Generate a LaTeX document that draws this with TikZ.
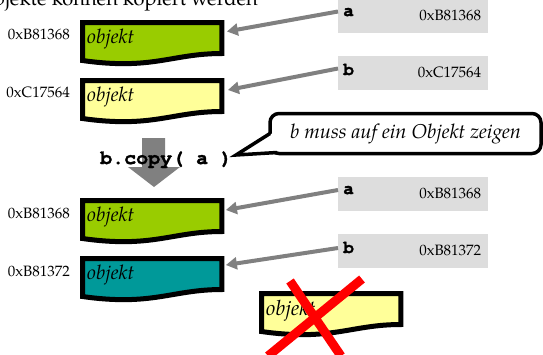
\documentclass[tikz,border=0pt]{standalone}
\usepackage{fontspec}
\setmainfont{TeX Gyre Pagella}
\setmonofont[BoldFeatures={FakeBold=1.5}]{TeX Gyre Cursor}
\usetikzlibrary{arrows.meta,calc}
\pgfdeclarelayer{bg}
\pgfsetlayers{bg,main}
\definecolor{objgreen}{HTML}{99CC00}
\definecolor{objyellow}{HTML}{FFFF99}
\definecolor{objteal}{HTML}{009999}
\definecolor{ptrgray}{HTML}{DDDDDD}
\definecolor{arrgray}{HTML}{808080}
\newcommand\objshape[2]{%
  \begin{pgfonlayer}{bg}
  \draw[line width=5pt, fill=#2, line join=miter]
    (#1.north west) -- (#1.north east) -- ($(#1.north east)+(0,31)$)
    .. controls +(-50,0) and +(70,10) .. ($(#1.north west)+(0,38)$) -- cycle;
  \end{pgfonlayer}}
\begin{document}
\begin{tikzpicture}[x=1pt,y=-1pt,
  obj/.style={anchor=north west, minimum width=139pt, minimum height=33pt,
    inner xsep=4.5pt, inner ysep=0pt, text width=130pt, align=left,
    font=\itshape\fontsize{20}{22}\selectfont},
  ptr/.style={anchor=north west, fill=ptrgray, minimum width=150pt,
    minimum height=33.5pt, inner sep=0pt},
  ptrlbl/.style={anchor=base west, inner sep=0pt,
    font=\ttfamily\bfseries\fontsize{18}{20}\selectfont},
  addr/.style={inner sep=0pt, font=\fontsize{15}{17}\selectfont},
  ptrarrow/.style={draw=arrgray, line width=4pt,
    -{Triangle[length=11pt,width=12pt]}},
  cross/.style={draw=red, line width=9pt}
]
\useasboundingbox (0,0) rectangle (543,354);

% title (cut off at the top)
\node[anchor=base east, inner sep=0pt, font=\fontsize{20}{23}\selectfont]
  (title) at (258,5) {Objekte können kopiert werden};

% ---------- upper part ----------
\node[obj] (o1) at (82.5,22.5) {objekt};
\objshape{o1}{objgreen}
\node[obj] (o2) at (82.5,80.5) {objekt};
\objshape{o2}{objyellow}
\node[addr, anchor=east] (l1) at (70,34) {0xB81368};
\node[addr, anchor=east] (l2) at (70,92) {0xC17564};

\node[ptr] (pa1) at (338,-1) {};
\node[ptrlbl] (pa1l) at ($(pa1.north west)+(5,17)$) {a};
\node[addr, anchor=base east] (pa1v) at ($(pa1.north east)+(-7,21)$) {0xB81368};
\node[ptr] (pb1) at (338,56) {};
\node[ptrlbl] (pb1l) at ($(pb1.north west)+(5,19)$) {b};
\node[addr, anchor=base east] (pb1v) at ($(pb1.north east)+(-7,21)$) {0xC17564};

\coordinate (pa1s) at ($(pa1.north west)+(0,12.5)$);
\coordinate (o1t) at ($(o1.north east)+(5,9)$);
\coordinate (pb1s) at ($(pb1.north west)+(0,12.5)$);
\coordinate (o2t) at ($(o2.north east)+(6,9.5)$);
\draw[ptrarrow] (pa1s) -- (o1t);
\draw[ptrarrow] (pb1s) -- (o2t);

% ---------- operation ----------
\fill[arrgray] (142,138) -- (165,138) -- (165,167) -- (180,167) -- (154,187)
  -- (128,167) -- (142,167) -- cycle;
\node[anchor=base west, inner sep=0pt,
  font=\ttfamily\bfseries\fontsize{20}{22}\selectfont] (call) at (100,164) {b.copy( a )};

\node[draw, line width=3.5pt, fill=white, rounded corners=9pt,
  minimum width=271pt, minimum height=40pt, inner sep=0pt,
  font=\itshape\fontsize{20}{22}\selectfont] (bub) at (405.5,133.5)
  {b muss auf ein Objekt zeigen};
\coordinate (tip) at (236,155);
\coordinate (tu) at (270,133.5);
\coordinate (tl) at (277,152.5);
\fill[white] (272,133.5) -- (tip) -- (276,151) -- (283,149) -- (283,133.5) -- cycle;
\draw[line width=3.5pt, line join=miter] (tu) -- (tip) -- (tl);

% ---------- lower part ----------
\node[obj] (o3) at (82.5,200.5) {objekt};
\objshape{o3}{objgreen}
\node[obj] (o4) at (82.5,258.5) {objekt};
\objshape{o4}{objteal}
\node[addr, anchor=east] (l3) at (70,213) {0xB81368};
\node[addr, anchor=east] (l4) at (70,271) {0xB81372};

\node[ptr] (pa2) at (338,177) {};
\node[ptrlbl] (pa2l) at ($(pa2.north west)+(5,17)$) {a};
\node[addr, anchor=base east] (pa2v) at ($(pa2.north east)+(-7,21)$) {0xB81368};
\node[ptr] (pb2) at (338,234) {};
\node[ptrlbl] (pb2l) at ($(pb2.north west)+(5,19)$) {b};
\node[addr, anchor=base east] (pb2v) at ($(pb2.north east)+(-7,21)$) {0xB81372};

\coordinate (pa2s) at ($(pa2.north west)+(0,13)$);
\coordinate (o3t) at ($(o3.north east)+(4,9.5)$);
\coordinate (pb2s) at ($(pb2.north west)+(0,14)$);
\coordinate (o4t) at ($(o4.north east)+(4,6.5)$);
\draw[ptrarrow] (pa2s) -- (o3t);
\draw[ptrarrow] (pb2s) -- (o4t);

% orphaned object
\node[obj, font=\itshape\fontsize{21}{23}\selectfont] (o5) at (261.5,293.5) {objekt};
\objshape{o5}{objyellow}
\coordinate (x1a) at (290,281);
\coordinate (x1b) at (341,356);
\coordinate (x2a) at (362,279);
\coordinate (x2b) at (268,356);
\draw[cross] (x1a) -- (x1b);
\draw[cross] (x2a) -- (x2b);
\end{tikzpicture}
\end{document}
